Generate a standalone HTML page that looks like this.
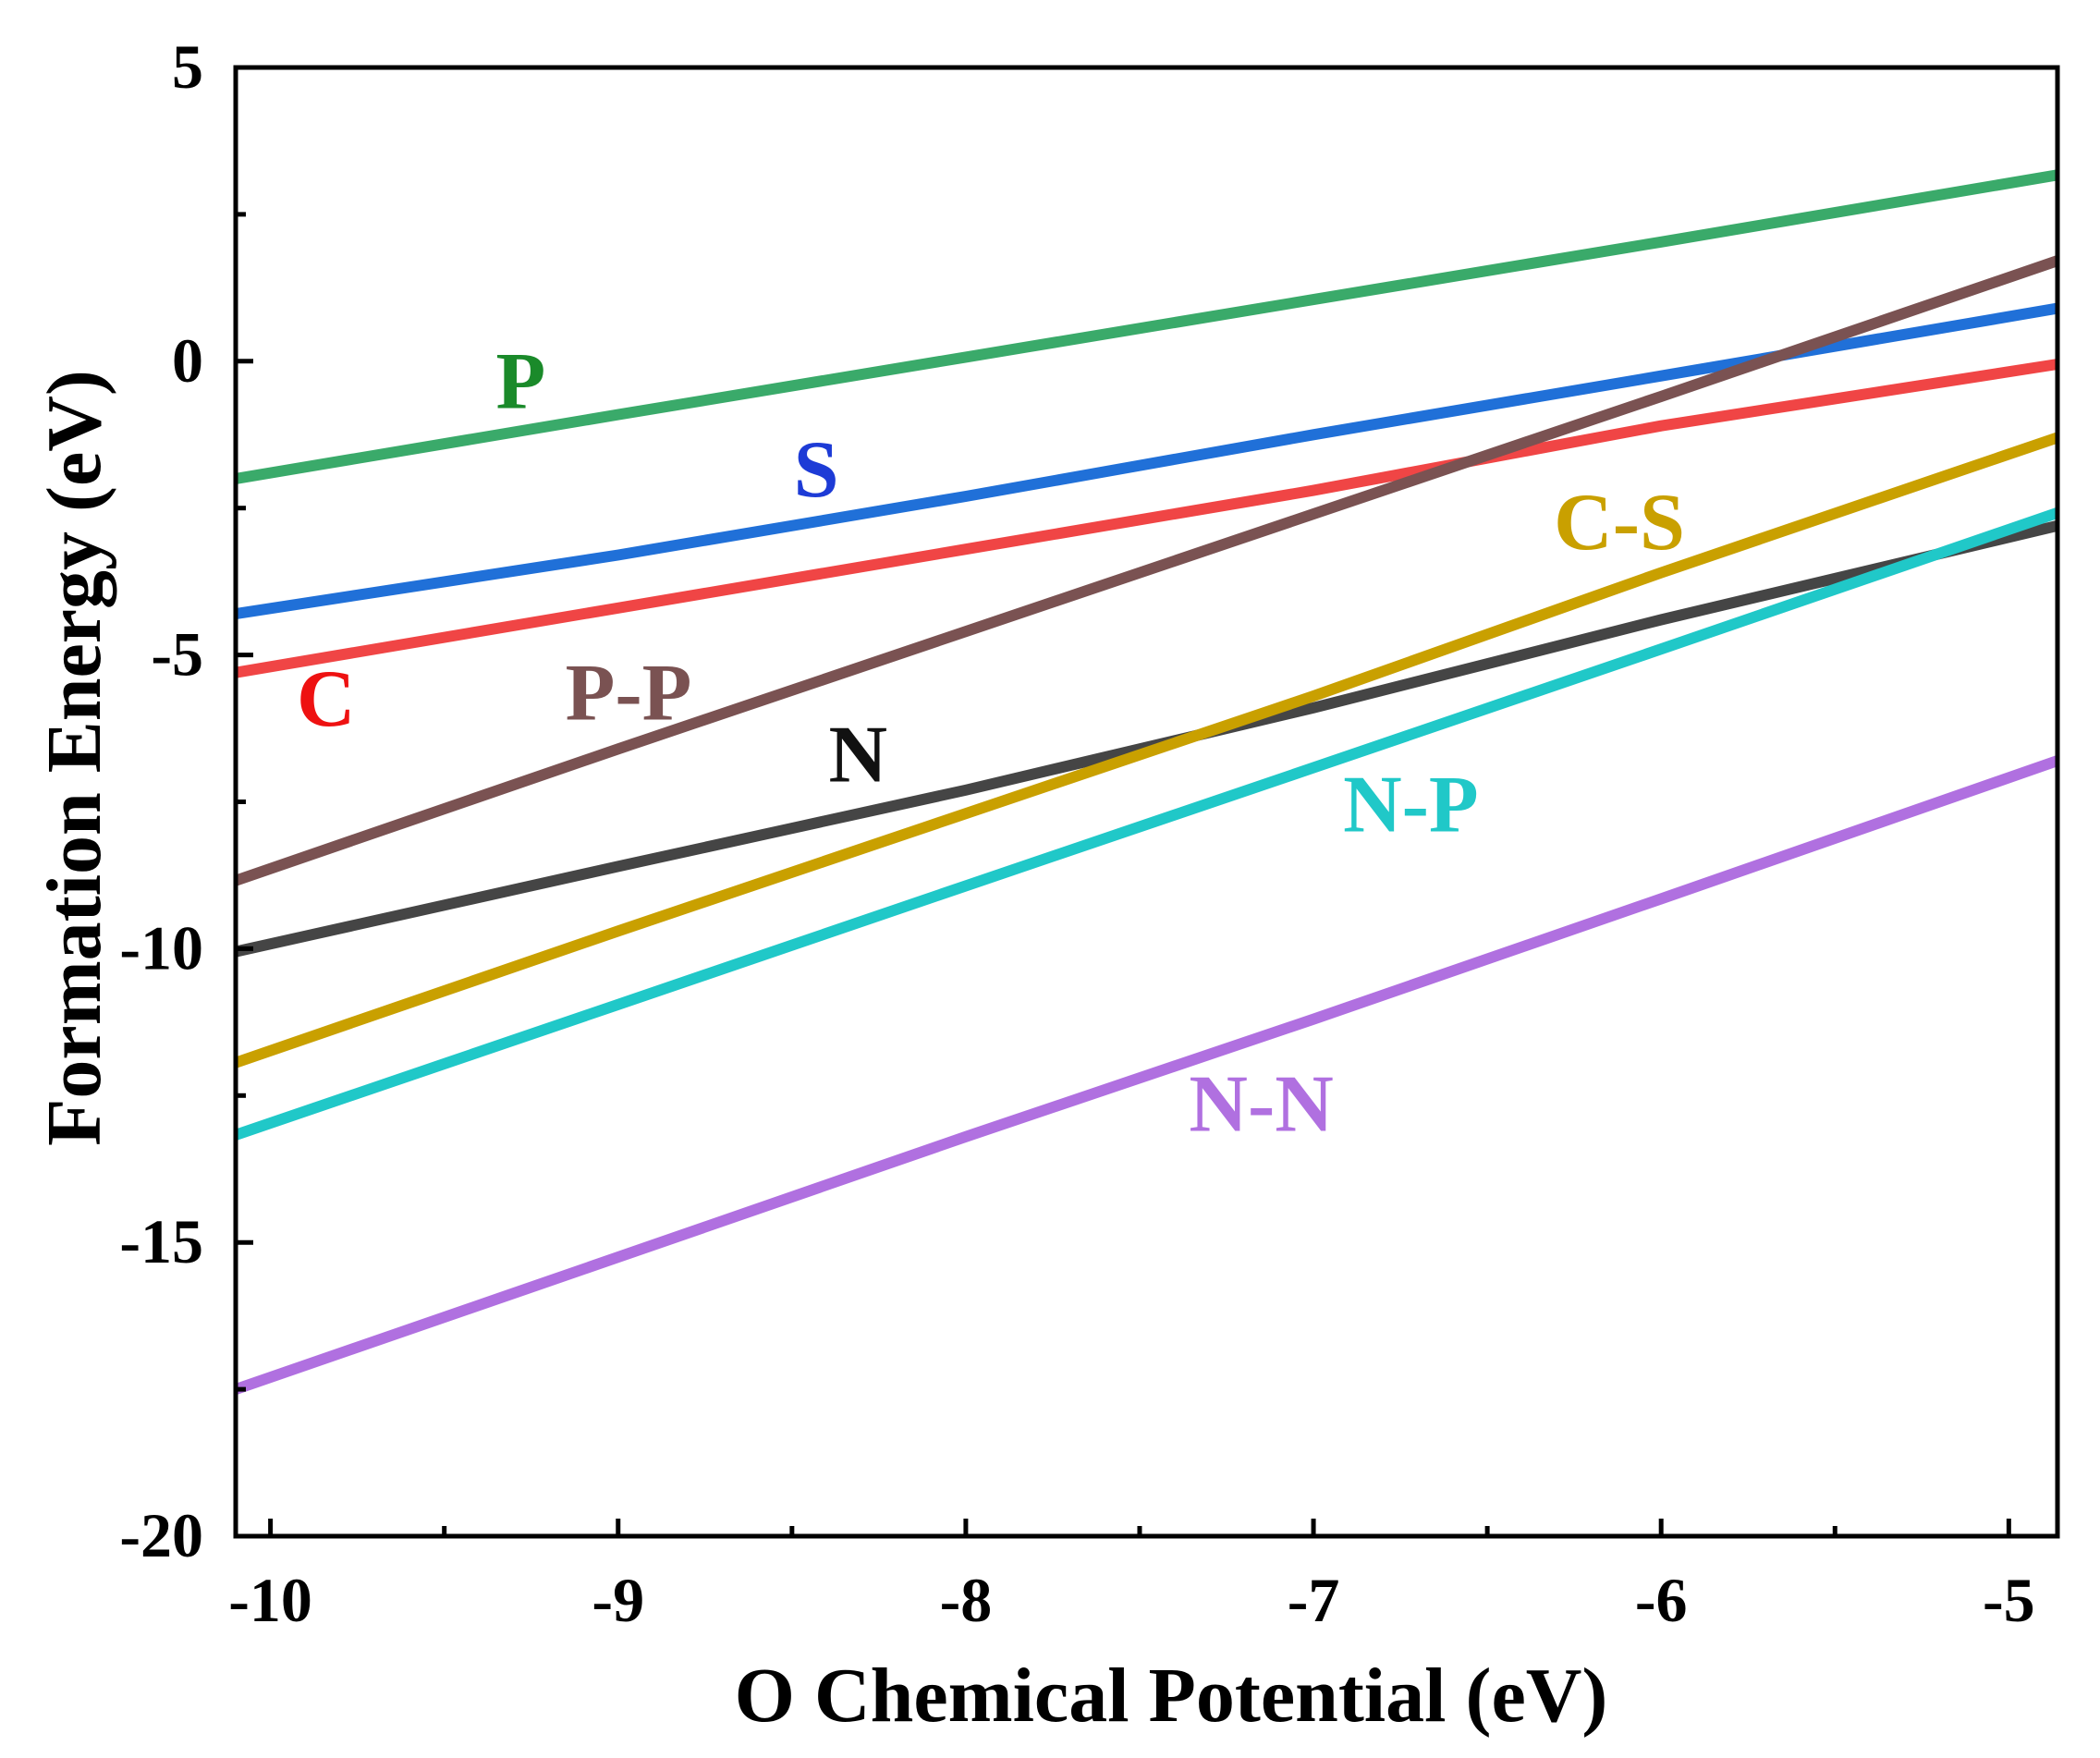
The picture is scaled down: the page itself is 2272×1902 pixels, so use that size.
<!DOCTYPE html>
<html><head><meta charset="utf-8"><style>
html,body{margin:0;padding:0;background:#fff;}
svg{display:block;font-family:"Liberation Serif",serif;font-weight:bold;}
</style></head><body>
<svg id="chart" width="2272" height="1902" viewBox="0 0 2272 1902" xmlns="http://www.w3.org/2000/svg">
<g id="marks"></g>
<g id="axes"></g>
<g id="labels"></g>
</svg>
<script>
const xValues = [-10.1, -9, -8, -7, -6, -4.86];
const seriesNames = ["P", "S", "C", "P-P", "N", "C-S", "N-P", "N-N"];
const seriesP  = [-2.0, -0.91, 0.07, 1.05, 2.03, 3.17];
const seriesS  = [-4.3, -3.3, -2.3, -1.25, -0.25, 0.9];
const seriesC  = [-5.3, -4.2, -3.2, -2.2, -1.1, -0.05];
const seriesPP = [-8.84, -6.6, -4.6, -2.6, -0.6, 1.71];
const seriesN  = [-10.05, -8.6, -7.3, -5.9, -4.4, -2.8];
const seriesCS = [-11.94, -9.7, -7.7, -5.7, -3.6, -1.3];
const seriesNP = [-13.17, -10.95, -8.93, -6.92, -4.9, -2.58];
const seriesNN = [-17.5, -15.25, -13.2, -11.2, -9.15, -6.8];
const xTicks = [-10, -9, -8, -7, -6, -5];
const yTicks = [5, 0, -5, -10, -15, -20];

const L = 255, R = 2226, T = 73, B = 1662;
const xMin = -10.1, xMax = -4.86, yMin = -20, yMax = 5;
const sx = v => L + (v - xMin) / (xMax - xMin) * (R - L);
const sy = v => B - (v - yMin) / (yMax - yMin) * (B - T);
const NS = "http://www.w3.org/2000/svg";
function mk(tag, attrs, parent){const e=document.createElementNS(NS,tag);for(const k in attrs)e.setAttribute(k,attrs[k]);parent.appendChild(e);return e;}

const series = [
 {name:"P", data:seriesP, color:"#3aaa6a", lc:"#1a8a2a", lx:-9.28, ly:-0.8},
 {name:"S", data:seriesS, color:"#2070d8", lc:"#1d3bd6", lx:-8.43, ly:-2.3},
 {name:"C", data:seriesC, color:"#f04545", lc:"#ee1111", lx:-9.84, ly:-6.2},
 {name:"P-P", data:seriesPP, color:"#7a5252", lc:"#7a5252", lx:-8.97, ly:-6.1},
 {name:"N", data:seriesN, color:"#454545", lc:"#111111", lx:-8.31, ly:-7.15},
 {name:"C-S", data:seriesCS, color:"#c9a000", lc:"#c9a000", lx:-6.12, ly:-3.2},
 {name:"N-P", data:seriesNP, color:"#20c8c8", lc:"#20c8c8", lx:-6.72, ly:-8.0},
 {name:"N-N", data:seriesNN, color:"#b070e0", lc:"#b070e0", lx:-7.15, ly:-13.1}
];
const marks = document.getElementById('marks');
const labels = document.getElementById('labels');
series.forEach(s=>{
  const d = s.data.map((v,i)=>(i?"L":"M")+sx(xValues[i]).toFixed(1)+","+sy(v).toFixed(1)).join(" ");
  const p = mk('path',{d:d,fill:"none",stroke:s.color,"stroke-width":12,"stroke-linejoin":"round"},marks);
  
  
  const t = mk('text',{x:sx(s.lx),y:sy(s.ly),fill:s.lc,"font-size":88,"text-anchor":"middle"},labels);
  t.textContent = s.name;
  
  
});

const axes = document.getElementById('axes');
const frame = mk('rect',{x:L,y:T,width:R-L,height:B-T,fill:"none",stroke:"#000","stroke-width":5},axes);


xTicks.forEach((v,i)=>{
  mk('line',{x1:sx(v),x2:sx(v),y1:B,y2:B-19,stroke:"#000","stroke-width":5},axes);
  if(i<xTicks.length-1){const m=v+0.5;mk('line',{x1:sx(m),x2:sx(m),y1:B,y2:B-11,stroke:"#000","stroke-width":5},axes);}
  const t = mk('text',{x:sx(v),y:1754,"font-size":68,"text-anchor":"middle",fill:"#000"},axes);
  t.textContent = v;
  
  
});
yTicks.forEach((v,i)=>{
  mk('line',{x1:L,x2:L+19,y1:sy(v),y2:sy(v),stroke:"#000","stroke-width":5},axes);
  if(i<yTicks.length-1){const m=v-2.5;mk('line',{x1:L,x2:L+11,y1:sy(m),y2:sy(m),stroke:"#000","stroke-width":5},axes);}
  const t = mk('text',{x:220,y:sy(v)+22,"font-size":68,"text-anchor":"end",fill:"#000"},axes);
  t.textContent = v;
  
  
});
const xt = mk('text',{x:1267,y:1862,"font-size":84,"text-anchor":"middle",fill:"#000"},axes);
xt.textContent = "O Chemical Potential (eV)";


const yt = mk('text',{x:0,y:0,"font-size":84,"text-anchor":"middle",fill:"#000",transform:"translate(108,820) rotate(-90)"},axes);
yt.textContent = "Formation Energy (eV)";


</script>
</body></html>
